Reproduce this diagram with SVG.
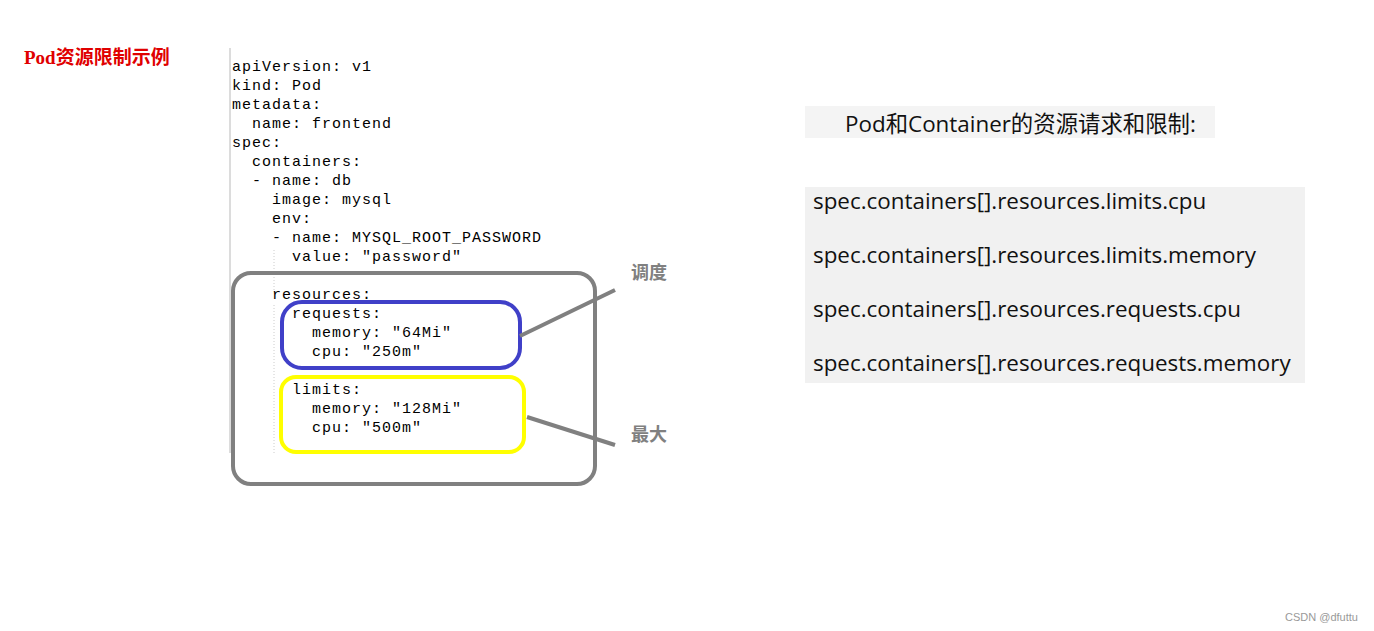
<svg xmlns="http://www.w3.org/2000/svg" width="1374" height="631" viewBox="0 0 1374 631">
<style>
.code{font-family:"Liberation Mono",monospace;font-size:15px;letter-spacing:1px;fill:#000}
.lst{font-family:"Open Sans","Noto Sans CJK SC",sans-serif;font-size:22.4px;fill:#111}
.lbl{font-family:"Liberation Serif","Noto Sans CJK SC",serif;font-size:18px;font-weight:bold;fill:#808080}
.conn{stroke:#808080;stroke-width:4;fill:none}
</style>
<rect width="1374" height="631" fill="#fff"/>
<text x="24" y="64" font-family="Liberation Serif,'Noto Sans CJK SC',serif" font-size="19" font-weight="bold" fill="#e00000">Pod资源限制示例</text>
<g id="code">
<rect x="229" y="48" width="2" height="405" fill="#dcdcdc"/>
<line x1="274" y1="250" x2="274" y2="290" stroke="#ccc" stroke-dasharray="1,2"/>
<line x1="274" y1="305" x2="274" y2="455" stroke="#ccc" stroke-dasharray="1,2"/>
<text class="code" xml:space="preserve"><tspan x="232" y="71">apiVersion: v1</tspan><tspan x="232" y="90">kind: Pod</tspan><tspan x="232" y="109">metadata:</tspan><tspan x="252" y="128">name: frontend</tspan><tspan x="232" y="147">spec:</tspan><tspan x="252" y="166">containers:</tspan><tspan x="252" y="185">- name: db</tspan><tspan x="272" y="204">image: mysql</tspan><tspan x="272" y="223">env:</tspan><tspan x="272" y="242">- name: MYSQL_ROOT_PASSWORD</tspan><tspan x="292" y="261">value: "password"</tspan><tspan x="272" y="299">resources:</tspan><tspan x="292" y="318">requests:</tspan><tspan x="312" y="337">memory: "64Mi"</tspan><tspan x="312" y="356">cpu: "250m"</tspan><tspan x="292" y="394">limits:</tspan><tspan x="312" y="413">memory: "128Mi"</tspan><tspan x="312" y="432">cpu: "500m"</tspan></text>
</g>
<g id="resources-box"><rect x="233" y="273" width="362" height="211" rx="18" fill="none" stroke="#808080" stroke-width="4"/></g>
<g id="requests-box"><rect x="282" y="302" width="238" height="66" rx="20" fill="none" stroke="#4040c8" stroke-width="4"/></g>
<g id="limits-box"><rect x="281" y="377" width="243" height="75" rx="15" fill="none" stroke="#ffff00" stroke-width="4"/></g>
<g id="connectors">
<line class="conn" x1="520" y1="336" x2="615" y2="290"/>
<line class="conn" x1="527" y1="417" x2="615" y2="445"/>
</g>
<g id="label-schedule"><text class="lbl" x="631" y="279">调度</text></g>
<g id="label-max"><text class="lbl" x="631" y="441">最大</text></g>
<g id="title-right">
<rect x="805" y="106" width="410" height="32" fill="#f4f4f4"/>
<text class="lst" x="845" y="132">Pod和Container的资源请求和限制:</text>
</g>
<g id="list">
<rect x="805" y="187" width="500" height="196" fill="#f1f1f1"/>
<text class="lst" x="813" y="209">spec.containers[].resources.limits.cpu</text>
<text class="lst" x="813" y="263">spec.containers[].resources.limits.memory</text>
<text class="lst" x="813" y="317">spec.containers[].resources.requests.cpu</text>
<text class="lst" x="813" y="371">spec.containers[].resources.requests.memory</text>
</g>
<text x="1285" y="621" font-family="Liberation Sans,sans-serif" font-size="11" fill="#999">CSDN @dfuttu</text>
</svg>
